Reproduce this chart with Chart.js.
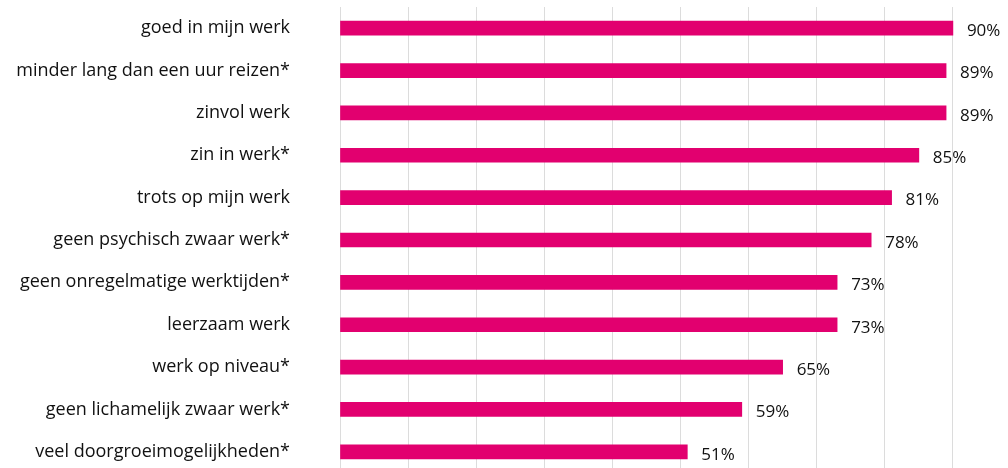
<!DOCTYPE html>
<html>
<head>
<meta charset="utf-8">
<script src="https://cdn.jsdelivr.net/npm/chart.js@4"></script>
<style>
  html, body { margin: 0; padding: 0; background: #fff; overflow: hidden; }
  #chart { position: absolute; left: 0; top: 0; }
</style>
</head>
<body>
<canvas id="chart" width="1040" height="480"></canvas>
<script>
"use strict";
var categories = [
    "goed in mijn werk",
    "minder lang dan een uur reizen*",
    "zinvol werk",
    "zin in werk*",
    "trots op mijn werk",
    "geen psychisch zwaar werk*",
    "geen onregelmatige werktijden*",
    "leerzaam werk",
    "werk op niveau*",
    "geen lichamelijk zwaar werk*",
    "veel doorgroeimogelijkheden*"
];
var percentages = [90, 89, 89, 85, 81, 78, 73, 73, 65, 59, 51];
var xTicks = [0, 10, 20, 30, 40, 50, 60, 70, 80, 90, 100];

var FONT = "'Open Sans', sans-serif";

// percentage next to every bar
var valueLabels = {
    id: "valueLabels",
    afterDatasetsDraw: function(chart){
        var ctx = chart.ctx;
        var meta = chart.getDatasetMeta(0);
        ctx.save();
        ctx.font = "17px " + FONT;
        ctx.fillStyle = "#111";
        ctx.textAlign = "left";
        ctx.textBaseline = "middle";
        meta.data.forEach(function(bar, i){
            ctx.fillText(percentages[i] + "%", bar.x + 14, bar.y + 3);
        });
        ctx.restore();
    }
};

var chart = new Chart(document.getElementById("chart").getContext("2d"), {
    type: "bar",
    data: {
        labels: categories,
        datasets: [{
            data: percentages,
            backgroundColor: "#e2006f",
            borderWidth: 0,
            barThickness: 14
        }]
    },
    options: {
        indexAxis: "y",
        responsive: false,
        animation: false,
        layout: { padding: { top: 7, right: 19, bottom: 7, left: 0 } },
        plugins: {
            legend: { display: false },
            tooltip: { enabled: false }
        },
        scales: {
            x: {
                min: 0,
                max: 100,
                afterBuildTicks: function(scale){
                    scale.ticks = xTicks.map(function(v){ return { value: v }; });
                },
                ticks: { display: false },
                grid: { color: "#dcdcdc", lineWidth: 1, drawTicks: false },
                border: { display: false }
            },
            y: {
                afterFit: function(scale){
                    scale.width = 340;
                    // tick padding should not push the plot down
                    scale.paddingTop = 0;
                    scale.paddingBottom = 0;
                },
                grid: { display: false, drawTicks: false },
                border: { display: false },
                ticks: {
                    padding: 50,
                    color: "#111",
                    font: { family: FONT, size: 18 }
                }
            }
        }
    },
    plugins: [valueLabels]
});
</script>
</body>
</html>
